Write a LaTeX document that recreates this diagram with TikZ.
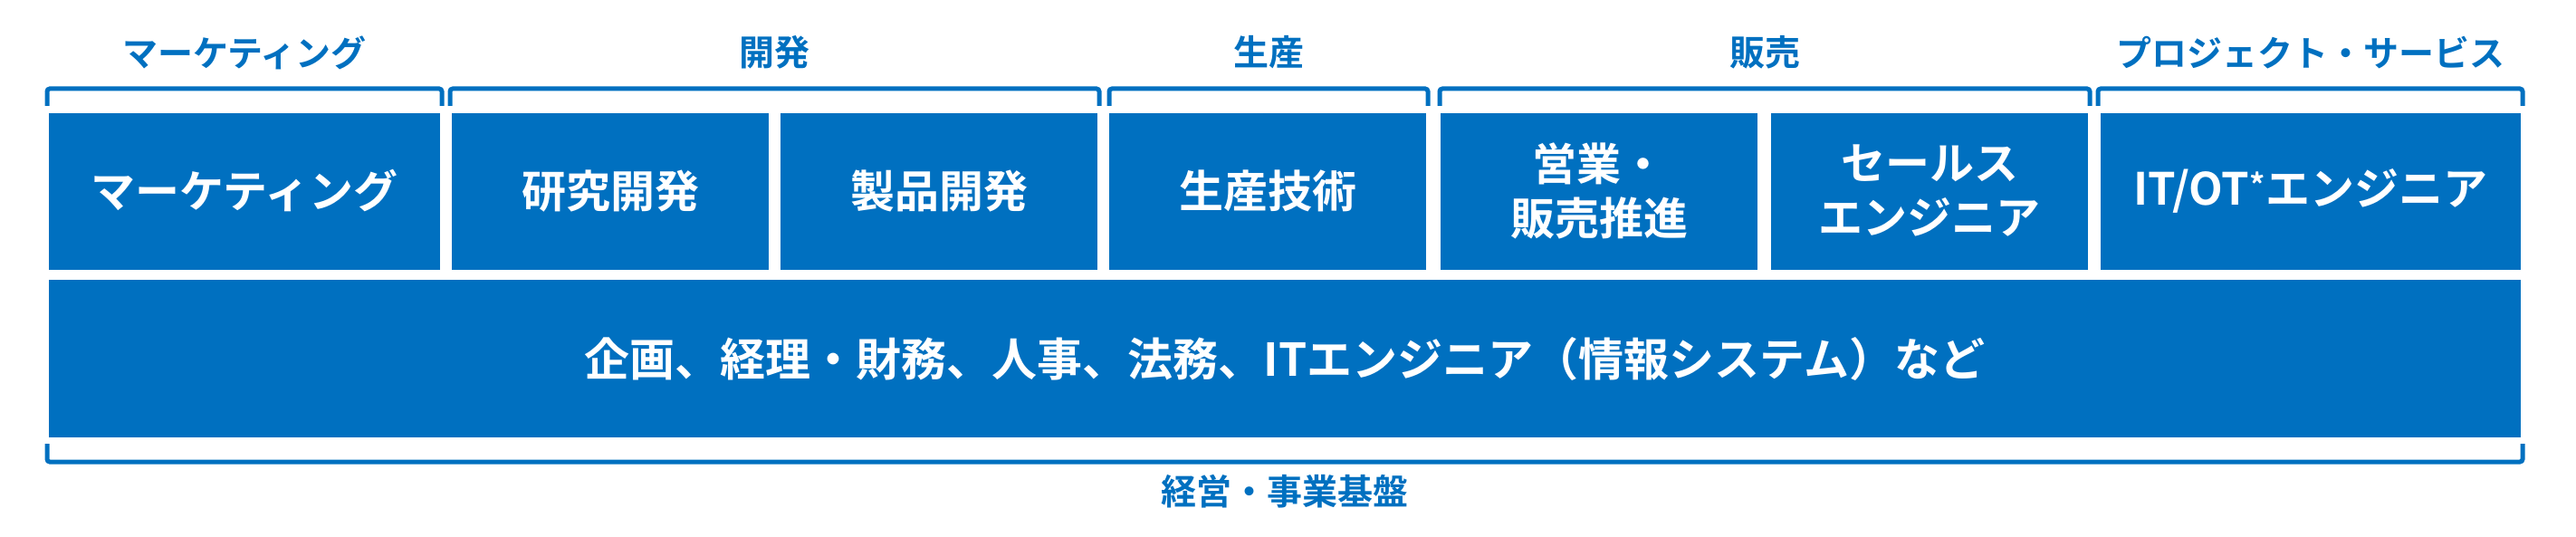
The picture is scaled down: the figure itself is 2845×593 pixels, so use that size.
\documentclass[tikz,border=0pt]{standalone}
\usepackage{fontspec}
\setmainfont{Noto Sans CJK JP}[BoldFont={Noto Sans CJK JP Bold}]
\definecolor{blu}{HTML}{0070C0}
\begin{document}
\begin{tikzpicture}[x=1pt,y=-1pt,
  box/.style={fill=blu,draw=none,inner sep=0pt},
  btxt/.style={text=white,font=\fontsize{49}{60}\selectfont\bfseries,align=center},
  lab/.style={text=blu,font=\fontsize{39}{46}\selectfont\bfseries},
  brk/.style={draw=blu,line width=5pt,rounded corners=3pt}]
\useasboundingbox (0,0) rectangle (2845,593);
\foreach \n/\a/\b/\t in {m/54/486/マーケティング, r/499/849/研究開発, p/862/1212/製品開発, s/1225/1575/生産技術, e/1591/1941/営業・\\販売推進, se/1956/2306/セールス\\エンジニア, it/2320/2784/{IT/OT\textsuperscript{*}エンジニア}}{
  \fill[blu] (\a,125) rectangle (\b,298);
  \node[btxt] (\n) at ({(\a+\b)/2},211) {\t};
}
\fill[blu] (54,309) rectangle (2784,483);
\node[btxt,font=\fontsize{50}{60}\selectfont\bfseries] (base) at (1419,396) {企画、経理・財務、人事、法務、ITエンジニア（情報システム）など};
\foreach \n/\a/\b/\t in {lm/52/488/マーケティング, ld/497/1214/開発, lp/1225/1577/生産, ls/1590/2308/販売, lpj/2317/2786/プロジェクト・サービス}{
  \draw[brk] (\a,117) -- (\a,98) -- (\b,98) -- (\b,117);
  \node[lab] (\n) at ({(\a+\b)/2},58) {\t};
}
\draw[brk] (52,490) -- (52,510) -- (2786,510) -- (2786,490);
\node[lab] (lb) at (1419,543) {経営・事業基盤};
\end{tikzpicture}
\end{document}
